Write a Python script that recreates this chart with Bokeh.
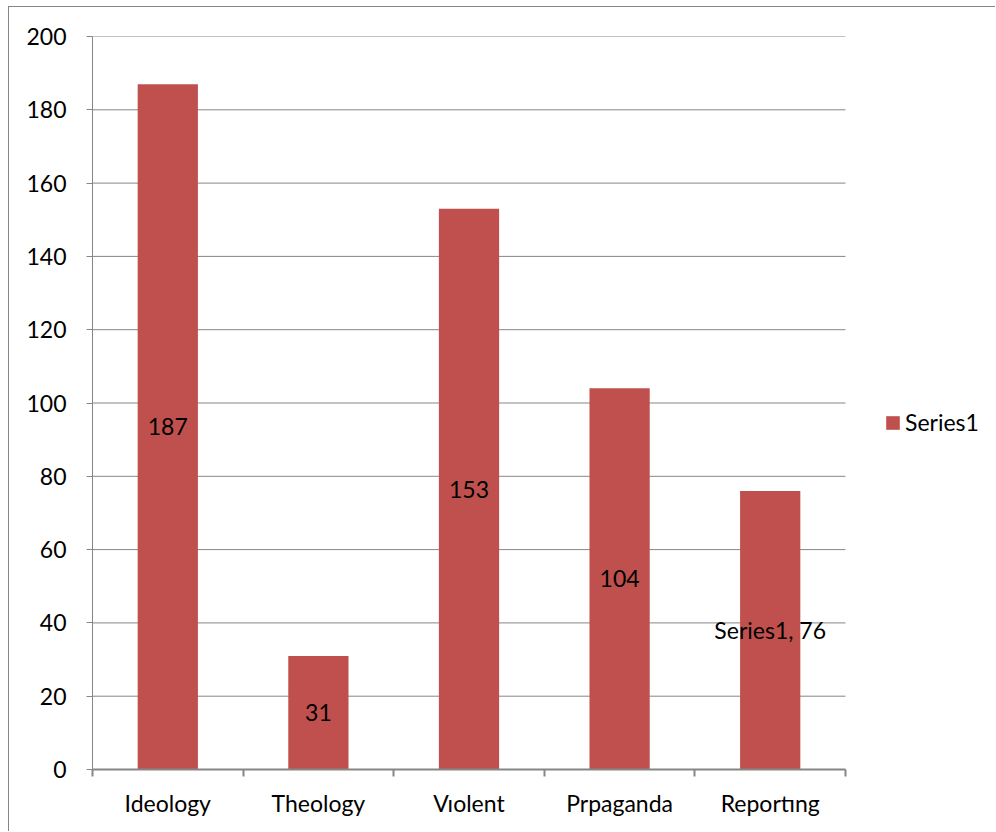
from bokeh.plotting import figure
from bokeh.models import (ColumnDataSource, FixedTicker, Legend, LegendItem,
                          LabelSet, Range1d)
from bokeh.core.properties import value
from bokeh.embed import file_html
from bokeh.resources import INLINE

categories = ["Ideology", "Theology", "Vıolent", "Prpaganda", "Reportıng"]
values = [187, 31, 153, 104, 76]
data_labels = ["187", "31", "153", "104", "Series1, 76"]
y_ticks = [0, 20, 40, 60, 80, 100, 120, 140, 160, 180, 200]
series_name = "Series1"

BAR = "#C0504D"
GRID = "#868686"
FONT = "Lato"
FS = "23px"

n = len(categories)
xpos = [i + 0.5 for i in range(n)]
src = ColumnDataSource(dict(x=xpos, top=values, mid=[v / 2 for v in values],
                            lab=data_labels))

# frame spans page x 92..996; plot area (categories) spans 92..845
plot_w, frame_w = 753, 904
x_end = n * frame_w / plot_w

p = figure(width=987, height=825, output_backend="svg", toolbar_location=None,
           x_range=Range1d(0, x_end), y_range=Range1d(0, 200),
           min_border_left=83, min_border_right=0, min_border_top=29,
           min_border_bottom=63,
           styles={"margin-left": "8px", "margin-top": "6px",
                   "border-left": "1px solid #868686",
                   "border-top": "1px solid #868686"})
p.outline_line_color = None
p.background_fill_color = "white"
p.border_fill_color = "white"
p.grid.grid_line_color = None

# horizontal gridlines over the category area only
p.segment(x0=[0] * len(y_ticks), x1=[n] * len(y_ticks), y0=y_ticks, y1=y_ticks,
          line_color=GRID, line_width=1)

r = p.vbar(x="x", top="top", width=0.4, source=src, fill_color=BAR,
           line_color=None)

lbl = LabelSet(x="x", y="mid", text="lab", source=src, text_align="center",
               text_baseline="middle", text_font=value(FONT),
               text_font_size=FS, text_color="black")
p.add_layout(lbl)

# x axis: boundary ticks (minor), labels at category centers
p.xaxis.bounds = (0, n)
p.xaxis.ticker = FixedTicker(ticks=xpos, minor_ticks=list(range(n + 1)))
p.xaxis.major_label_overrides = {x: c for x, c in zip(xpos, categories)}
p.xaxis.major_tick_line_color = None
p.xaxis.minor_tick_line_color = GRID
p.xaxis.minor_tick_line_width = 2
p.xaxis.minor_tick_out = 7
p.xaxis.minor_tick_in = 0
p.xaxis.axis_line_color = GRID
p.xaxis.axis_line_width = 2
p.xaxis.major_label_text_font = FONT
p.xaxis.major_label_text_font_size = FS
p.xaxis.major_label_text_color = "black"
p.xaxis.major_label_standoff = 12

p.yaxis.ticker = FixedTicker(ticks=y_ticks)
p.yaxis.minor_tick_line_color = None
p.yaxis.major_tick_line_color = GRID
p.yaxis.major_tick_out = 6
p.yaxis.major_tick_in = 0
p.yaxis.axis_line_color = GRID
p.yaxis.axis_line_width = 1
p.yaxis.major_label_text_font = FONT
p.yaxis.major_label_text_font_size = FS
p.yaxis.major_label_text_color = "black"
p.yaxis.major_label_standoff = 20

legend = Legend(items=[LegendItem(label=series_name, renderers=[r])],
                location=(792, 333), glyph_width=17, glyph_height=17,
                label_text_font=FONT, label_text_font_size=FS,
                label_text_color="black",
                border_line_color=None, background_fill_alpha=0,
                padding=0, margin=0, label_standoff=4)
p.add_layout(legend, "center")

open("out.html", "w").write(file_html(p, INLINE))
